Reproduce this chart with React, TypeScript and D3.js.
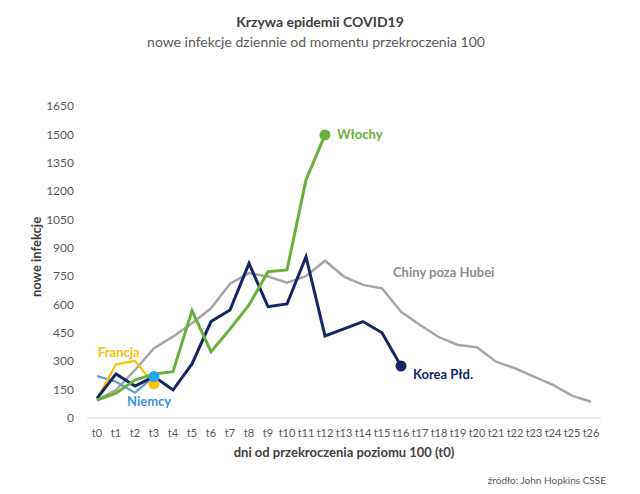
import React from "react";
import * as d3 from "d3";

const days = d3.range(0, 27).map((i) => `t${i}`);
const yTicks = [0, 150, 300, 450, 600, 750, 900, 1050, 1200, 1350, 1500, 1650];

const chinyValues = [95, 148, 254, 369, 430, 501, 580, 710, 766, 748, 716, 750, 832, 748, 704, 686, 562, 492, 427, 386, 374, 298, 263, 219, 175, 118, 86];
const koreaValues = [104, 233, 169, 219, 148, 286, 510, 571, 818, 589, 603, 853, 434, 471, 510, 451, 275];
const wlochyValues = [95, 131, 201, 233, 245, 568, 351, 470, 598, 774, 783, 1259, 1497];
const francjaValues = [100, 284, 302, 180];
const niemcyValues = [222, 192, 134, 219];

const W = 640;
const H = 494;
const FONT = "Lato, 'Open Sans', sans-serif";

export default function App() {
  const x = d3.scaleLinear().domain([0, 26]).range([97, 591]);
  const y = d3.scaleLinear().domain([0, 1650]).range([418, 106]);
  const line = d3
    .line<number>()
    .x((_, i) => x(i))
    .y((d) => y(d));

  const series = [
    { name: "Chiny", values: chinyValues, color: "#a6a6a6", width: 2.5, dot: null as string | null },
    { name: "Niemcy", values: niemcyValues, color: "#5b9bd5", width: 2.2, dot: null },
    { name: "Francja", values: francjaValues, color: "#ffc000", width: 2.2, dot: "#ffc000" },
    { name: "Korea", values: koreaValues, color: "#142664", width: 3, dot: "#142664" },
    { name: "Wlochy", values: wlochyValues, color: "#6aae3b", width: 3, dot: "#6aae3b" },
  ];

  return (
    <svg width={W} height={H} style={{ display: "block", marginLeft: -8, marginTop: -8 }} fontFamily={FONT}>
      <rect width={W} height={H} fill="#fff" />
      <text x={320} y={27} textAnchor="middle" fontSize={14} fontWeight="bold" fill="#404040">
        Krzywa epidemii COVID19
      </text>
      <text x={316} y={47} textAnchor="middle" fontSize={14} fill="#595959">
        nowe infekcje dziennie od momentu przekroczenia 100
      </text>

      {yTicks.map((t) => (
        <text key={t} x={74} y={y(t)} dy="0.35em" textAnchor="end" fontSize={12} fill="#595959">
          {t}
        </text>
      ))}
      <text
        transform={`translate(41,257) rotate(-90)`}
        textAnchor="middle"
        fontSize={13}
        fontWeight="bold"
        fill="#404040"
      >
        nowe infekcje
      </text>

      <line x1={87} x2={601} y1={y(0)} y2={y(0)} stroke="#d9d9d9" strokeWidth={1} />
      {days.map((d, i) => (
        <text key={d} x={x(i)} y={437} textAnchor="middle" fontSize={11} fill="#595959">
          {d}
        </text>
      ))}
      <text x={344} y={457} textAnchor="middle" fontSize={13} fontWeight="bold" fill="#404040">
        dni od przekroczenia poziomu 100 (t0)
      </text>

      {series.map((s) => (
        <path
          key={s.name}
          d={line(s.values) || ""}
          fill="none"
          stroke={s.color}
          strokeWidth={s.width}
          strokeLinejoin="miter"
        />
      ))}
      {series
        .filter((s) => s.dot)
        .map((s) => (
          <circle
            key={s.name + "dot"}
            cx={x(s.values.length - 1)}
            cy={y(s.values[s.values.length - 1])}
            r={5.5}
            fill={s.dot as string}
          />
        ))}
      <circle cx={x(niemcyValues.length - 1)} cy={y(niemcyValues[niemcyValues.length - 1])} r={5.5} fill="#1fa8ec" />

      <text x={337} y={139} fontSize={13} fontWeight="bold" fill="#6aae3b">Włochy</text>
      <text x={393} y={277} fontSize={13} fontWeight="bold" fill="#8c8c8c">Chiny poza Hubei</text>
      <text x={413} y={379} fontSize={13} fontWeight="bold" fill="#142664">Korea Płd.</text>
      <text x={98} y={357} fontSize={13} fontWeight="bold" fill="#ffc000">Francja</text>
      <text x={127} y={406} fontSize={13} fontWeight="bold" fill="#3d94dc">Niemcy</text>

      <text x={606} y={484} textAnchor="end" fontSize={10} fill="#595959">
        źródło: John Hopkins CSSE
      </text>
    </svg>
  );
}
